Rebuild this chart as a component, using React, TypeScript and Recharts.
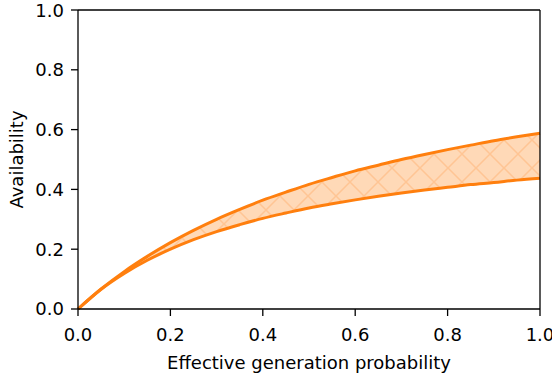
import {
  ComposedChart,
  Area,
  Line,
  XAxis,
  YAxis,
  ReferenceLine,
} from "recharts";

const probability = [
  0, 0.05, 0.1, 0.15, 0.2, 0.25, 0.3, 0.35, 0.4, 0.45, 0.5, 0.55, 0.6, 0.65,
  0.7, 0.75, 0.8, 0.85, 0.9, 0.95, 1.0,
];
const upperAvail = [
  0, 0.067, 0.125, 0.176, 0.222, 0.263, 0.3, 0.333, 0.364, 0.391, 0.417, 0.44,
  0.462, 0.481, 0.5, 0.517, 0.533, 0.548, 0.563, 0.576, 0.588,
];
const lowerAvail = [
  0, 0.066, 0.119, 0.163, 0.2, 0.232, 0.259, 0.282, 0.303, 0.321, 0.338, 0.352,
  0.365, 0.377, 0.388, 0.398, 0.407, 0.416, 0.423, 0.431, 0.437,
];
const ticks = [0, 0.2, 0.4, 0.6, 0.8, 1.0];

const ORANGE = "#ff7f0e";
const FONT = "DejaVu Sans";
const FS = 18;

const data = probability.map((p, i) => ({
  p,
  upper: upperAvail[i],
  lower: lowerAvail[i],
  band: [lowerAvail[i], upperAvail[i]],
}));

const fmt = (v: number) => v.toFixed(1);

export default function App() {
  return (
    <div style={{ position: "absolute", left: 0, top: 0, fontFamily: FONT }}>
      <ComposedChart
        width={552}
        height={375}
        data={data}
        margin={{ top: 10, right: 12, bottom: 0, left: 0 }}
      >
        <defs>
          <pattern
            id="xhatch"
            width={28}
            height={28}
            patternUnits="userSpaceOnUse"
          >
            <rect width={28} height={28} fill="#ffd9b7" />
            <path
              d="M0,0 L28,28 M28,0 L0,28"
              stroke="#ffc594"
              strokeWidth={1.5}
            />
          </pattern>
        </defs>
        <XAxis
          dataKey="p"
          type="number"
          domain={[0, 1]}
          ticks={ticks}
          tickFormatter={fmt}
          height={66}
          tickSize={7}
          tickMargin={12}
          stroke="#000"
          strokeWidth={1.3}
          tick={{ fill: "#000", fontSize: FS, fontFamily: FONT }}
          label={{
            value: "Effective generation probability",
            position: "insideBottom",
            offset: 6,
            fill: "#000",
            fontSize: FS,
            fontFamily: FONT,
          }}
        />
        <YAxis
          type="number"
          domain={[0, 1]}
          ticks={ticks}
          tickFormatter={fmt}
          width={78}
          tickSize={7}
          tickMargin={7}
          stroke="#000"
          strokeWidth={1.3}
          tick={{ fill: "#000", fontSize: FS, fontFamily: FONT }}
          label={{
            value: "Availability",
            angle: -90,
            position: "insideLeft",
            offset: 17,
            fill: "#000",
            fontSize: FS,
            fontFamily: FONT,
            style: { textAnchor: "middle" },
          }}
        />
        <Area
          dataKey="band"
          type="monotone"
          stroke="none"
          fill="url(#xhatch)"
          fillOpacity={1}
          isAnimationActive={false}
          activeDot={false}
        />
        <Line
          dataKey="upper"
          type="monotone"
          stroke={ORANGE}
          strokeWidth={3}
          dot={false}
          isAnimationActive={false}
        />
        <Line
          dataKey="lower"
          type="monotone"
          stroke={ORANGE}
          strokeWidth={3}
          dot={false}
          isAnimationActive={false}
        />
        <ReferenceLine y={1} stroke="#000" strokeWidth={1.3} />
        <ReferenceLine x={1} stroke="#000" strokeWidth={1.3} />
      </ComposedChart>
    </div>
  );
}
